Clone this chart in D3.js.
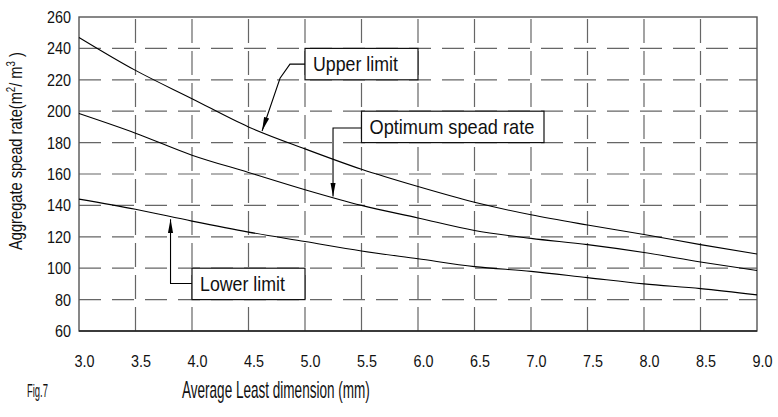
<!DOCTYPE html>
<html lang="en">
<head>
<meta charset="utf-8">
<title>Fig.7 Aggregate spread rate</title>
<script src="https://d3js.org/d3.v7.min.js"></script>
<style>
    body { margin: 0; background: #fff; }
    text { font-family: "Liberation Sans Narrow", "Arial Narrow", "Liberation Sans", sans-serif; fill: #111; }
</style>
</head>
<body>
<div id="chart"></div>
<script>
    // data
    var sizes   = [3.0, 3.5, 4.0, 4.5, 5.0, 5.5, 6.0, 6.5, 7.0, 7.5, 8.0, 8.5, 9.0];
    var upper   = [247, 226, 208, 190, 176, 163, 152, 142, 134, 127.5, 121.5, 115, 109];
    var optimum = [198.5, 186, 172, 161, 150, 140, 132, 124, 119, 115, 110, 104, 98.5];
    var lower   = [144, 137.5, 130, 123, 117, 111, 106, 101, 98, 94, 90, 87, 83];

    var xTicks = [3.0, 3.5, 4.0, 4.5, 5.0, 5.5, 6.0, 6.5, 7.0, 7.5, 8.0, 8.5, 9.0];
    var yTicks = [60, 80, 100, 120, 140, 160, 180, 200, 220, 240, 260];

    // callout labels, in data units
    var labels = [
      {text: "Upper limit",         box: [5.0, 6.0, 220, 240],  len: 85,
       leader: [[5.0, 230], [4.867, 230], [4.779, 221], [4.62, 187.4]]},
      {text: "Optimum spead rate",  box: [5.5, 7.115, 180, 200], len: 165,
       leader: [[5.5, 189.3], [5.248, 189.3], [5.248, 145.6]]},
      {text: "Lower limit",         box: [4.0, 5.0, 80, 100],   len: 85,
       leader: [[4.0, 90.3], [3.81, 90.3], [3.81, 131.2]]}
    ];

    var W = 778, H = 417;
    var margin = {top: 17, right: 21, bottom: 86, left: 79};

    var svg = d3.select("#chart").append("svg")
        .attr("width", W)
        .attr("height", H);

    svg.append("defs").append("marker")
        .attr("id", "arrow")
        .attr("viewBox", "0 -3 14 6")
        .attr("refX", 14)
        .attr("refY", 0)
        .attr("markerUnits", "userSpaceOnUse")
        .attr("markerWidth", 14)
        .attr("markerHeight", 6)
        .attr("orient", "auto")
      .append("path")
        .attr("d", "M0,-2.6L14,0L0,2.6Z")
        .attr("fill", "#000");

    var x = d3.scaleLinear().domain([3, 9]).range([margin.left, W - margin.right]);
    var y = d3.scaleLinear().domain([60, 260]).range([H - margin.bottom, margin.top]);

    // squeeze a text horizontally to a given width (the original font is condensed)
    function squeeze(sel, px, py, width, rot) {
      var len = sel.node().getComputedTextLength();
      sel.attr("transform", "translate(" + px + "," + py + ")" + (rot ? " rotate(" + rot + ")" : "") +
               " scale(" + (width / len) + ",1)");
    }

    // dashed grid
    var grid = svg.append("g");
    grid.selectAll(".hg")
        .data(yTicks.filter(function(d) { return d > 60 && d < 260; }))
      .enter().append("line")
        .attr("x1", x(3)).attr("x2", x(9))
        .attr("y1", function(d) { return y(d); })
        .attr("y2", function(d) { return y(d); })
        .attr("stroke", "#666")
        .attr("stroke-width", 1.2)
        .attr("stroke-dasharray", "22,11");
    grid.selectAll(".vg")
        .data(xTicks.filter(function(d) { return d > 3 && d < 9; }))
      .enter().append("line")
        .attr("x1", function(d) { return x(d); })
        .attr("x2", function(d) { return x(d); })
        .attr("y1", y(60)).attr("y2", y(260))
        .attr("stroke", "#666")
        .attr("stroke-width", 1.2)
        .attr("stroke-dasharray", "24,8");

    // frame
    svg.append("rect")
        .attr("x", x(3)).attr("y", y(260))
        .attr("width", x(9) - x(3)).attr("height", y(60) - y(260))
        .attr("fill", "none")
        .attr("stroke", "#555")
        .attr("stroke-width", 1.4);
    svg.append("line")
        .attr("x1", x(3)).attr("x2", x(9))
        .attr("y1", y(60)).attr("y2", y(60))
        .attr("stroke", "#222")
        .attr("stroke-width", 1.4);

    // axes (labels only)
    var xAxis = svg.append("g")
        .attr("transform", "translate(0," + y(60) + ")")
        .call(d3.axisBottom(x).tickValues(xTicks).tickSize(0).tickPadding(24)
              .tickFormat(d3.format(".1f")));
    xAxis.select(".domain").remove();
    xAxis.selectAll("text")
        .attr("dx", 5)
        .attr("textLength", 20)
        .attr("lengthAdjust", "spacingAndGlyphs")
        .style("font-size", "17px")
        .attr("font-family", null);

    var yAxis = svg.append("g")
        .attr("transform", "translate(" + x(3) + ",0)")
        .call(d3.axisLeft(y).tickValues(yTicks).tickSize(0).tickPadding(8));
    yAxis.select(".domain").remove();
    yAxis.selectAll("text")
        .attr("textLength", function(d) { return String(d).length * 8; })
        .attr("lengthAdjust", "spacingAndGlyphs")
        .style("font-size", "17px")
        .attr("font-family", null);

    // curves
    var series = [upper, optimum, lower];
    var line = d3.line()
        .x(function(d, i) { return x(sizes[i]); })
        .y(function(d) { return y(d); })
        .curve(d3.curveMonotoneX);
    svg.selectAll(".curve")
        .data(series)
      .enter().append("path")
        .attr("d", line)
        .attr("fill", "none")
        .attr("stroke", "#000")
        .attr("stroke-width", 1.1);

    // callouts
    var lead = d3.line()
        .x(function(d) { return x(d[0]); })
        .y(function(d) { return y(d[1]); });
    labels.forEach(function(l) {
      svg.append("path")
          .attr("d", lead(l.leader))
          .attr("fill", "none")
          .attr("stroke", "#000")
          .attr("stroke-width", 1.1)
          .attr("marker-end", "url(#arrow)");
      svg.append("rect")
          .attr("x", x(l.box[0])).attr("y", y(l.box[3]))
          .attr("width", x(l.box[1]) - x(l.box[0]))
          .attr("height", y(l.box[2]) - y(l.box[3]))
          .attr("fill", "#fff")
          .attr("stroke", "#111")
          .attr("stroke-width", 1.2);
      var t = svg.append("text")
          .style("font-size", "20px")
          .text(l.text);
      squeeze(t, x(l.box[0]) + 8, (y(l.box[2]) + y(l.box[3])) / 2 + 7, l.len);
    });

    // titles
    var xt = svg.append("text")
        .style("font-size", "23px")
        .text("Average Least dimension (mm)");
    squeeze(xt, 182, 398, 188);

    var fig = svg.append("text")
        .style("font-size", "19px")
        .text("Fig.7");
    squeeze(fig, 27, 397, 21);

    var yt = svg.append("text")
        .attr("text-anchor", "middle")
        .style("font-size", "18px");
    yt.append("tspan").text("Aggregate spead rate(m");
    yt.append("tspan").attr("dy", -7).style("font-size", "12px").text("2");
    yt.append("tspan").attr("dy", 7).text("/ m");
    yt.append("tspan").attr("dy", -7).style("font-size", "12px").text("3");
    yt.append("tspan").attr("dy", 7).text(" )");
    squeeze(yt, 22, 151, 198, -90);
</script>
</body>
</html>
